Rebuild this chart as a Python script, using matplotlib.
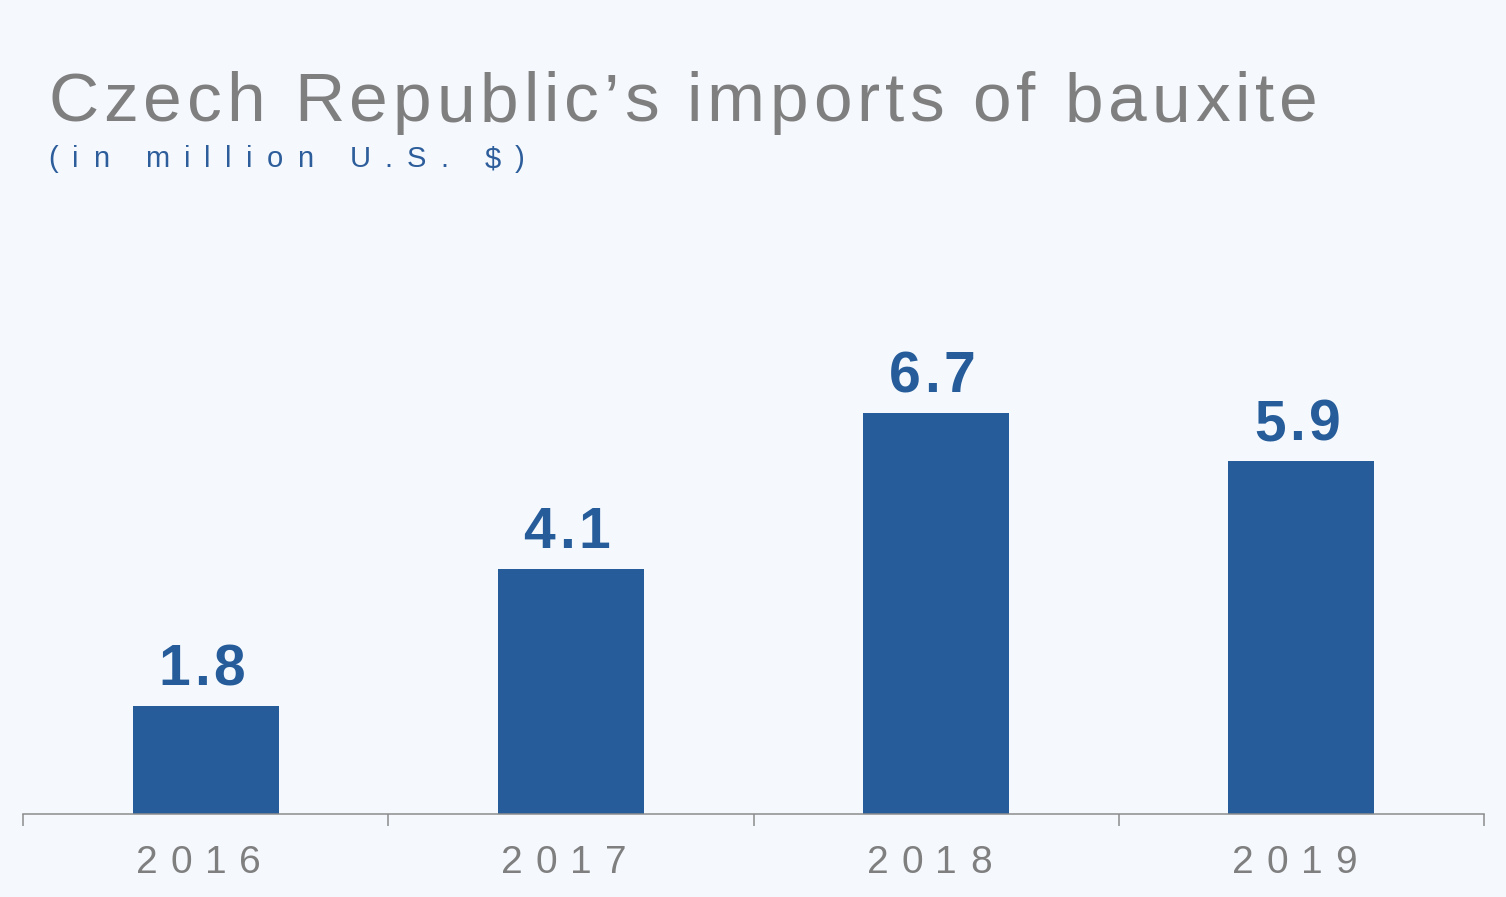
import matplotlib.pyplot as plt
import numpy as np

years = ['2016', '2017', '2018', '2019']
values = [1.8, 4.1, 6.7, 5.9]
value_labels = ['1.8', '4.1', '6.7', '5.9']

title = 'Czech Republic\u2019s imports of bauxite'
subtitle = '(in million U.S. $)'

W, H = 1506, 897
bg = '#F5F9FE'
blue = '#255C99'
gray = '#7F7F7F'

plt.rcParams['font.family'] = ['Liberation Sans', 'DejaVu Sans']

fig = plt.figure(figsize=(W/100, H/100), dpi=100, facecolor=bg)
ax = fig.add_axes([23/W, (H-814)/H, 1461/W, 478.4/H])
ax.set_facecolor(bg)

x = np.arange(len(years))
ax.bar(x, values, width=0.4, color=blue, zorder=2)

ax.set_xlim(-0.5, len(years)-0.5)
ax.set_ylim(0, 8)
for s in ['top', 'left', 'right']:
	ax.spines[s].set_visible(False)
ax.spines['bottom'].set_color('#8C8C8C')
ax.spines['bottom'].set_linewidth(1.1)
ax.set_xticks(np.arange(len(years)+1) - 0.5)
ax.set_xticklabels([])
ax.tick_params(axis='x', direction='out', length=8.5, width=1.1, color='#8C8C8C')
ax.set_yticks([])

r = fig.canvas.get_renderer()

def text_w(t, **kw):
	a = fig.text(0, 0, t + 'I', **kw)
	b = fig.text(0, 0, 'I', **kw)
	v = a.get_window_extent(r).width - b.get_window_extent(r).width
	a.remove(); b.remove()
	return v

# draw letter-spaced text, x/y in display pixels (y from bottom, baseline)
def spaced(s, x0, y0, width, ha='left', **kw):
	natural = text_w(s, **kw)
	sp = (width - natural) / (len(s) - 1)
	if ha == 'center':
		x0 = x0 - width/2
	for i, c in enumerate(s):
		if c == ' ':
			continue
		xx = x0 + text_w(s[:i], **kw) + i*sp if i else x0
		fig.text(xx/W, y0/H, c, ha='left', va='baseline', **kw)

spaced(title, 48, H-121, 1270, fontsize=50, color=gray)
spaced(subtitle, 48, H-167, 477, fontsize=21, color='#2D5D9A')

for i in range(len(years)):
	cx, top = ax.transData.transform((x[i], values[i]))
	spaced(years[i], cx - 7, H-873, 125, ha='center', fontsize=28, color=gray)
	spaced(value_labels[i], cx - 4, top + 21, 87, ha='center', fontsize=41,
		fontweight='bold', color=blue)

fig.savefig('out.png', dpi=100, facecolor=bg)
